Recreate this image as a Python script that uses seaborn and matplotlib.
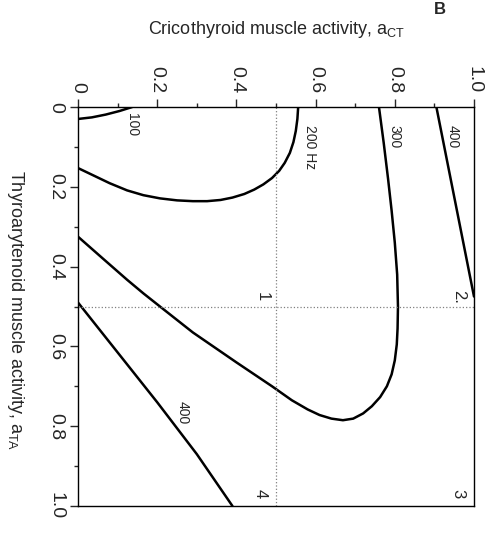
import matplotlib
matplotlib.use("Agg")
import matplotlib.pyplot as plt
import seaborn as sns

# iso-frequency contours: a_CT (horizontal) vs a_TA (vertical, downwards)
ct_100 = [0.0, 0.035, 0.07, 0.105, 0.137]
ta_100 = [0.030, 0.026, 0.019, 0.010, 0.0]

ct_200 = [0.0, 0.04, 0.08, 0.124, 0.165, 0.207, 0.25, 0.29, 0.326, 0.36, 0.39, 0.42, 0.445,
          0.468, 0.49, 0.508, 0.522, 0.535, 0.544, 0.550, 0.554, 0.556]
ta_200 = [0.153, 0.172, 0.191, 0.209, 0.221, 0.229, 0.234, 0.236, 0.236, 0.233, 0.227, 0.218, 0.207,
          0.194, 0.178, 0.160, 0.140, 0.115, 0.088, 0.060, 0.030, 0.0]

ct_300 = [0.0, 0.063, 0.124, 0.165, 0.207, 0.29, 0.40, 0.49, 0.54, 0.58, 0.61, 0.64, 0.669, 0.695,
          0.72, 0.742, 0.763, 0.78, 0.792, 0.800, 0.805, 0.807, 0.808, 0.806, 0.800, 0.792,
          0.783, 0.772, 0.760]
ta_300 = [0.325, 0.380, 0.433, 0.467, 0.500, 0.565, 0.640, 0.700, 0.735, 0.758, 0.772, 0.781, 0.785,
          0.781, 0.768, 0.750, 0.727, 0.700, 0.670, 0.635, 0.595, 0.555, 0.500, 0.420, 0.340,
          0.260, 0.180, 0.090, 0.0]

ct_400a = [0.905, 0.945, 0.978, 1.0]
ta_400a = [0.0, 0.200, 0.365, 0.475]

ct_400b = [0.0, 0.10, 0.20, 0.30, 0.39]
ta_400b = [0.490, 0.615, 0.740, 0.870, 1.0]

contour_labels = ["100", "200 Hz", "300", "400", "400"]
contour_label_ct = [0.137, 0.585, 0.800, 0.947, 0.265]
contour_label_ta = [0.045, 0.100, 0.075, 0.075, 0.765]

region_labels = ["1", "2.", "3", "4"]
region_ct = [0.465, 0.960, 0.960, 0.460]
region_ta = [0.475, 0.475, 0.970, 0.970]

tick_vals = [0, 0.2, 0.4, 0.6, 0.8, 1.0]
tick_text = ["0", "0.2", "0.4", "0.6", "0.8", "1.0"]

sns.set_style("ticks")
plt.rcParams['font.family'] = ['Liberation Sans', 'DejaVu Sans']
plt.rcParams['mathtext.fontset'] = 'custom'
plt.rcParams['mathtext.rm'] = 'Liberation Sans'

fig = plt.figure(figsize=(4.88, 5.35), dpi=100)
ax = fig.add_axes([78 / 488, 1 - 506 / 535, 396 / 488, 399 / 535])

for cx, ty in [(ct_100, ta_100), (ct_200, ta_200), (ct_300, ta_300),
               (ct_400a, ta_400a), (ct_400b, ta_400b)]:
    sns.lineplot(x=cx, y=ty, sort=False, estimator=None, ax=ax,
                 color='black', lw=1.8, legend=False)

# dotted guides at 0.5
ax.axvline(0.5, color='gray', ls=':', lw=0.9)
ax.axhline(0.5, color='gray', ls=':', lw=0.9)

for lab, cx, ty in zip(contour_labels, contour_label_ct, contour_label_ta):
    ax.text(cx, ty, lab, rotation=-90, ha='center', va='center', fontsize=10)
for lab, cx, ty in zip(region_labels, region_ct, region_ta):
    ax.text(cx, ty, lab, rotation=-90, ha='center', va='center', fontsize=12)

ax.set_xlim(0, 1)
ax.set_ylim(1, 0)
ax.xaxis.tick_top()
ax.set_xticks(tick_vals)
ax.set_xticklabels(tick_text, rotation=-90, fontsize=14)
ax.set_yticks(tick_vals)
ax.set_yticklabels(tick_text, rotation=-90, fontsize=14, va='center')
ax.set_xticks([0.1, 0.3, 0.5, 0.7, 0.9], minor=True)
ax.set_yticks([0.1, 0.3, 0.5, 0.7, 0.9], minor=True)
ax.tick_params(which='major', direction='out', length=6, width=1, pad=4,
               top=True, bottom=False, left=True, right=False)
ax.tick_params(which='minor', direction='out', length=3, width=1,
               top=True, bottom=False, left=True, right=False)
for s in ax.spines.values():
    s.set_linewidth(1.0)
    s.set_color('black')

fig.text(276 / 488, 1 - 30 / 535, r"Cricothyroid muscle activity, a$_{\mathregular{CT}}$",
         ha='center', va='center', fontsize=13)
fig.text(15 / 488, 1 - 310 / 535, r"Thyroarytenoid muscle activity, a$_{\mathregular{TA}}$",
         ha='center', va='center', fontsize=13, rotation=-90)
# panel letter (cut off at the top edge in the source scan)
fig.text(440 / 488, 1 - 2 / 535, "B", ha='center', va='top', fontsize=12, fontweight='bold')

fig.savefig("out.png", dpi=100)
